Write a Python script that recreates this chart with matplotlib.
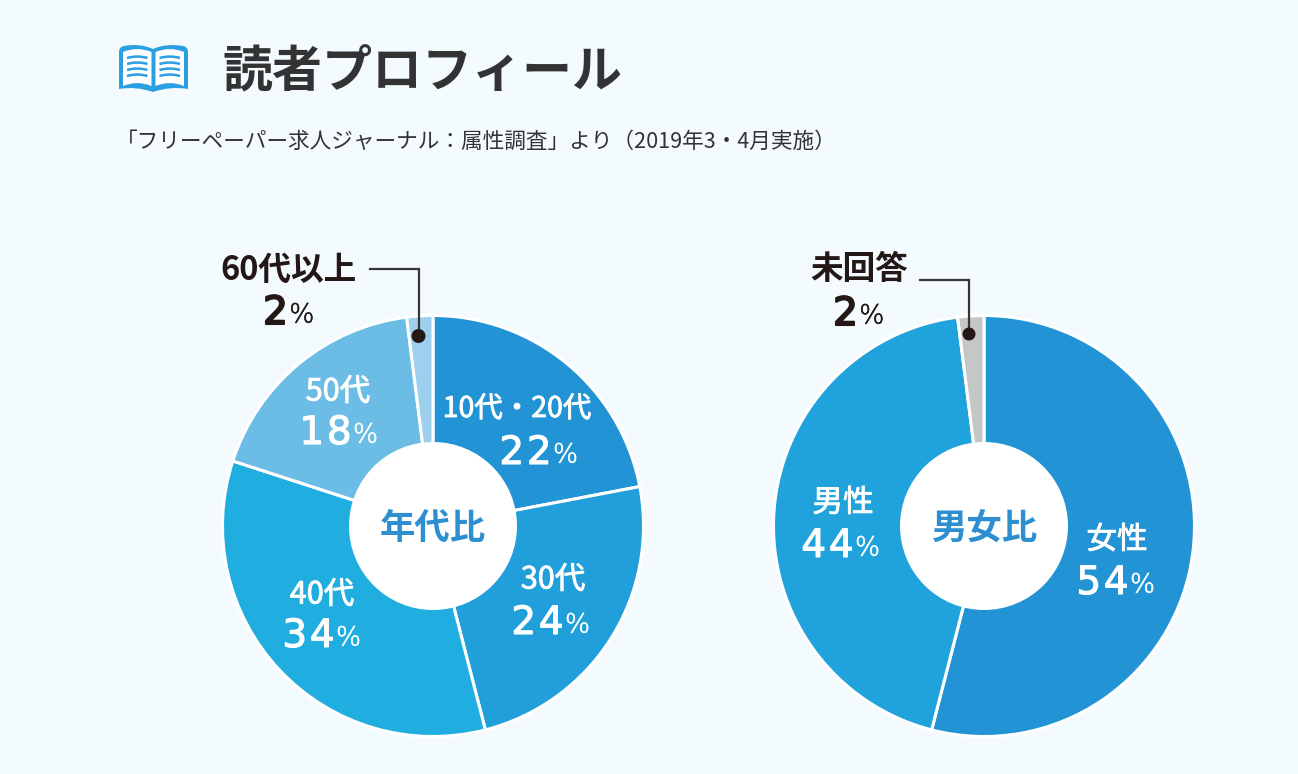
# -*- coding: utf-8 -*-
import matplotlib
matplotlib.use("Agg")
import matplotlib.pyplot as plt
import matplotlib.patheffects as pe
from matplotlib.patches import Circle, PathPatch
from matplotlib.path import Path

plt.rcParams['font.family'] = ['Noto Sans CJK JP', 'DejaVu Sans']

# --------------------------------------------------
# Data
# --------------------------------------------------
title = '読者プロフィール'
subtitle = '「フリーペーパー求人ジャーナル\uff1a属性調査」より\uff082019年3・4月実施\uff09'

age_labels = ['10代・20代', '30代', '40代', '50代', '60代以上']
age_values = [22, 24, 34, 18, 2]
age_colors = ['#2294d5', '#219fdb', '#20aee0', '#6cbde6', '#9dd0ef']

sex_labels = ['女性', '男性', '未回答']
sex_values = [54, 44, 2]
sex_colors = ['#2294d5', '#20a3dc', '#c5c6c6']

# --------------------------------------------------
# Layout (pixels, y down)
# --------------------------------------------------
bg = '#f3fbff'
dark = '#231815'
age_pos = [(517, 409, 539, 453), (553, 580, 551, 623), (322, 595, 322, 636), (338, 392, 339, 433)]
age_size = [20.5, 22, 22, 22]
sex_pos = [(1117, 540, 1116, 583), (843, 503, 841, 546)]

fig = plt.figure(figsize=(12.98, 7.74), dpi=100, facecolor=bg)
ax = fig.add_axes([0, 0, 1, 1])


def donut(values, colors, center, name):
    ax.pie(values, colors=colors, center=center, radius=210.5, startangle=-90, counterclock=True,
           wedgeprops={'edgecolor': 'white', 'linewidth': 2.2})
    ax.add_patch(Circle(center, 84, fc='white', ec='none', zorder=3))
    ax.text(center[0], center[1] + 2, name, color='#2d8fd0', fontsize=25.5, fontweight='bold',
            ha='center', va='center', zorder=4)


def percent(x, y, value, color, size=28, step=27.5, stroke=0.8):
    # number drawn digit by digit for the wide tracking, small % after it
    digits = str(value)
    pct_w = 27
    width = step * len(digits) + pct_w
    x0 = x - width / 2
    for i, d in enumerate(digits):
        ax.text(x0 + step * (i + 0.5), y, d, color=color, fontsize=size, family='DejaVu Sans',
                ha='center', va='center', zorder=4,
                path_effects=[pe.withStroke(linewidth=stroke, foreground=color)])
    ax.text(x0 + step * len(digits), y + 2, '%', color=color, fontsize=19,
            family='DejaVu Sans', fontweight='light', ha='left', va='center', zorder=4,
            path_effects=[pe.withStroke(linewidth=0.4, foreground=color)])


def label(x, y, text, size):
    ax.text(x, y, text, color='white', fontsize=size, ha='center', va='center', zorder=4,
            path_effects=[pe.withStroke(linewidth=0.6, foreground='white')])


def leader(xs, ys, dot_r):
    ax.plot(xs, ys, color='#3a3533', lw=1.6, solid_joinstyle='miter', zorder=5)
    ax.add_patch(Circle((xs[-1], ys[-1]), dot_r, fc=dark, ec='none', zorder=6))


donut(age_values, age_colors, (433, 526), '年代比')
donut(sex_values, sex_colors, (984, 526), '男女比')

for (lx, ly, px, py), lab, val, sz in zip(age_pos, age_labels, age_values, age_size):
    label(lx, ly, lab, sz)
    percent(px, py, val, 'white')

for (lx, ly, px, py), lab, val in zip(sex_pos, sex_labels, sex_values):
    label(lx, ly, lab, 22)
    percent(px, py, val, 'white')

# callouts for the two thin slices
ax.text(289, 270, age_labels[4], color=dark, fontsize=23.5, fontweight='bold', ha='center', va='center')
percent(289, 313, age_values[4], dark, stroke=1.5)
leader([370, 418.5, 418.5], [269, 269, 336], 7)

ax.text(859, 270, sex_labels[2], color=dark, fontsize=23.5, fontweight='bold', ha='center', va='center')
percent(859, 314, sex_values[2], dark, stroke=1.5)
leader([920, 969, 969], [280, 280, 334], 6.5)

# --------------------------------------------------
# Header
# --------------------------------------------------
ax.text(222, 72, title, color='#333333', fontsize=36, fontweight='bold', ha='left', va='center')
ax.text(116, 142, subtitle, color='#333333', fontsize=15.6, ha='left', va='center')

# book icon
icon_blue = '#2a9fe2'
C3, L = Path.CURVE3, Path.LINETO
outer = Path([(119, 52), (119, 47), (124, 46), (140, 43), (153, 49), (166, 43), (183, 46),
              (188, 47), (188, 52), (188, 89), (170, 86), (153, 92), (136, 86), (119, 89), (119, 52)],
             [Path.MOVETO, C3, C3, C3, C3, C3, C3, C3, C3, L, C3, C3, C3, C3, Path.CLOSEPOLY])
ax.add_patch(PathPatch(outer, fc=icon_blue, ec='none'))
for x0, x1 in [(123, 151.5), (155.5, 184)]:
    mid = (x0 + x1) / 2
    page = Path([(x0, 52), (mid, 46), (x1, 52), (x1, 86), (mid, 80), (x0, 86), (x0, 52)],
                [Path.MOVETO, C3, C3, L, C3, C3, L])
    ax.add_patch(PathPatch(page, fc='white', ec='none'))
    for y in [58, 64, 70, 76]:
        line = Path([(x0 + 4, y), (mid, y - 3), (x1 - 4, y)], [Path.MOVETO, C3, C3])
        ax.add_patch(PathPatch(line, fc='none', ec=icon_blue, lw=1.8))

ax.set_xlim(0, 1298)
ax.set_ylim(774, 0)
ax.axis('off')

plt.savefig('out.png', dpi=100, facecolor=bg)
